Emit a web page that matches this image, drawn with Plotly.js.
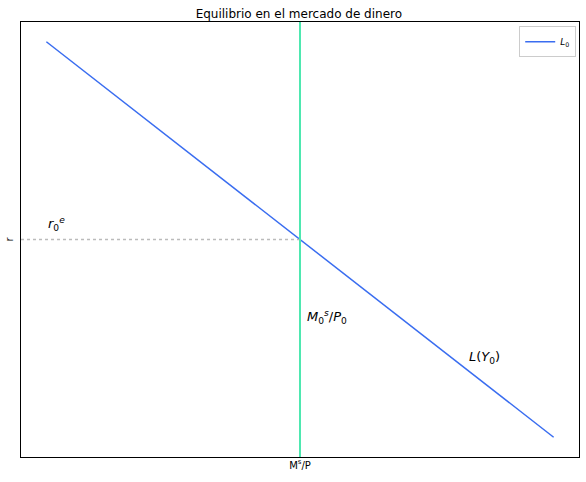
<!DOCTYPE html>
<html>
<head>
<meta charset="utf-8">
<script src="https://cdn.plot.ly/plotly-3.0.1.min.js"></script>
<style>body{margin:0}#chart{width:586px;height:482px}</style>
</head>
<body>
<div id="chart"></div>
<script>
// money demand L(Y0): quantity vs interest rate
const demandQ = [0, 100];
const demandR = [80, 0];
// money supply and equilibrium rate
const moneySupply = 50;
const eqRate = 40;

const blue = '#3a6df0';
const green = '#4ee8b0';

const traces = [
  {
    x: demandQ, y: demandR, mode: 'lines', name: '<i>L</i><sub>0</sub>',
    line: { color: blue, width: 1.5 }
  },
  {
    x: [-5, moneySupply], y: [eqRate, eqRate], mode: 'lines', showlegend: false,
    line: { color: '#bbbbbb', width: 1.5, dash: 'dot' }
  }
];

const layout = {
  width: 586, height: 482,
  margin: { l: 21, r: 7, t: 22, b: 25 },
  paper_bgcolor: 'white', plot_bgcolor: 'white',
  font: { family: 'DejaVu Sans', size: 10, color: 'black' },
  title: { text: 'Equilibrio en el mercado de dinero', font: { size: 12 }, x: 0.51, y: 0.98, yanchor: 'top' },
  xaxis: {
    range: [-5, 105], showticklabels: false, ticks: '', showgrid: false, zeroline: false,
    showline: true, mirror: true, linecolor: 'black', linewidth: 1,
    title: { text: 'M<sup>s</sup>/P', standoff: 4, font: { size: 10 } }
  },
  yaxis: {
    range: [-4, 84], showticklabels: false, ticks: '', showgrid: false, zeroline: false,
    showline: true, mirror: true, linecolor: 'black', linewidth: 1,
    title: { text: 'r', standoff: 4, font: { size: 10 } }
  },
  shapes: [{
    type: 'line', xref: 'x', yref: 'paper', x0: moneySupply, x1: moneySupply, y0: 0, y1: 1,
    line: { color: green, width: 2 }
  }],
  legend: {
    x: 0.995, y: 0.99, xanchor: 'right', yanchor: 'top',
    bordercolor: '#cccccc', borderwidth: 1, font: { size: 9 }
  },
  annotations: [
    { x: 0, y: eqRate + 1, text: '<i>r</i><sub>0</sub><sup><i>e</i></sup>', showarrow: false, xanchor: 'left', yanchor: 'bottom', font: { size: 13 } },
    { x: moneySupply + 1, y: 24.3, text: '<i>M</i><sub>0</sub><sup><i>s</i></sup>/<i>P</i><sub>0</sub>', showarrow: false, xanchor: 'left', font: { size: 13 } },
    { x: 83, y: 16.1, text: '<i>L</i>(<i>Y</i><sub>0</sub>)', showarrow: false, xanchor: 'left', font: { size: 13 } }
  ]
};

Plotly.newPlot('chart', traces, layout, { displayModeBar: false });
</script>
</body>
</html>
